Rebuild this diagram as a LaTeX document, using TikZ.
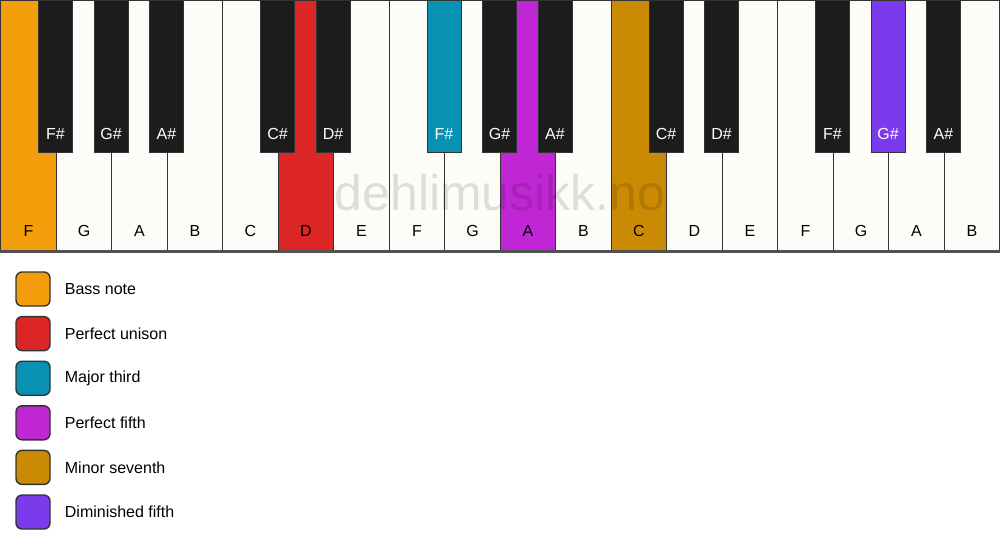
\documentclass[tikz,border=0pt]{standalone}
\usepackage{fontspec}
\setmainfont{Liberation Sans}
\usetikzlibrary{calc}

\definecolor{keywhite}{HTML}{FDFCF9}
\definecolor{keyblack}{HTML}{1C1C1C}
\definecolor{keyline}{HTML}{333333}
\definecolor{bassnote}{HTML}{F59E0B}
\definecolor{unison}{HTML}{DC2626}
\definecolor{majthird}{HTML}{0891B2}
\definecolor{perffifth}{HTML}{C026D3}
\definecolor{minseventh}{HTML}{CA8A04}
\definecolor{dimfifth}{HTML}{7C3AED}

\tikzset{
  whitekey/.style={draw=keyline, line width=1.4pt, fill=keywhite, inner sep=0pt,
    minimum width=55.56pt, minimum height=250pt, anchor=north west},
  blackkey/.style={draw=keyline, line width=0.8pt, fill=keyblack, inner sep=0pt,
    minimum width=34pt, minimum height=152pt, anchor=north},
  keylabel/.style={font=\fontsize{16}{19}\selectfont, inner sep=0pt},
  legendbox/.style={draw=keyline, line width=1.4pt, rounded corners=6pt, inner sep=0pt,
    minimum width=34pt, minimum height=34pt},
  legendtext/.style={font=\fontsize{16}{19}\selectfont, anchor=west, inner sep=0pt}
}

\begin{document}
\begin{tikzpicture}[x=1pt, y=-1pt]
  \useasboundingbox [fill=white] (0,0) rectangle (1000,550);

  % white keys
  \foreach \n/\col [count=\i from 0] in {F/bassnote, G/keywhite, A/keywhite, B/keywhite,
      C/keywhite, D/unison, E/keywhite, F/keywhite, G/keywhite, A/perffifth, B/keywhite,
      C/minseventh, D/keywhite, E/keywhite, F/keywhite, G/keywhite, A/keywhite, B/keywhite} {
    \node [whitekey, fill=\col] (w\i) at ({\i*55.5}, 0) {};
    \node [keylabel] (wl\i) at ($(w\i.south)+(0,-20)$) {\n};
  }
  \draw [line width=2.4pt, draw=keyline!85] (w0.south west) -- (w17.south east);

  % watermark
  \node [font=\fontsize{50}{54}\selectfont, text=black, opacity=0.12] (mark) at (500,193) {dehlimusikk.no};

  % black keys
  \foreach \b/\n/\col in {1/F/keyblack, 2/G/keyblack, 3/A/keyblack, 5/C/keyblack, 6/D/keyblack,
      8/F/majthird, 9/G/keyblack, 10/A/keyblack, 12/C/keyblack, 13/D/keyblack,
      15/F/keyblack, 16/G/dimfifth, 17/A/keyblack} {
    \node [blackkey, fill=\col] (b\b) at (w\b.north west) {};
    \node [keylabel, text=white] (bl\b) at ($(b\b.south)+(0,-19)$) {\n\#};
  }

  % legend
  \foreach \col/\txt [count=\k from 0] in {bassnote/Bass note, unison/Perfect unison,
      majthird/Major third, perffifth/Perfect fifth, minseventh/Minor seventh,
      dimfifth/Diminished fifth} {
    \node [legendbox, fill=\col] (lg\k) at (33, {289+\k*44.6}) {};
    \node [legendtext] (lt\k) at ($(lg\k.east)+(14,0)$) {\txt};
  }
\end{tikzpicture}
\end{document}
